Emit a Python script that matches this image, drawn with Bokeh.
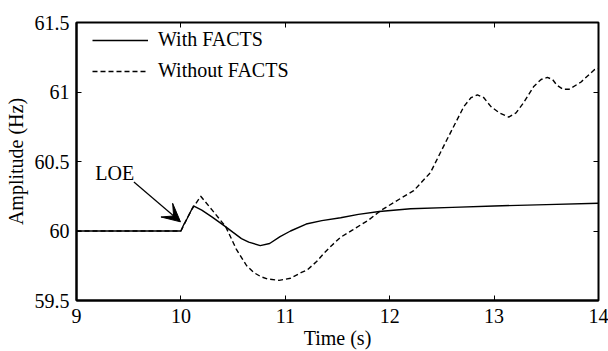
from bokeh.plotting import figure
from bokeh.models import (Range1d, LinearAxis, FixedTicker, Legend, LegendItem,
                          Arrow, VeeHead, Label, CustomJSTickFormatter)
from bokeh.embed import file_html
from bokeh.resources import INLINE

# Frequency response after loss of excitation (LOE)
t_with = [9.0, 10.0, 10.03, 10.06, 10.12, 10.2, 10.3, 10.43, 10.5, 10.58, 10.65, 10.76,
          10.85, 10.95, 11.05, 11.2, 11.35, 11.53, 11.7, 11.9, 12.2, 12.6, 13.0,
          13.5, 14.0]
f_with = [60.0, 60.0, 60.05, 60.09, 60.18, 60.15, 60.1, 60.03, 59.99, 59.945, 59.92, 59.895,
          59.91, 59.96, 60.0, 60.05, 60.075, 60.095, 60.12, 60.14, 60.16, 60.17, 60.18,
          60.19, 60.2]

t_without = [9.0, 10.0, 10.1, 10.19, 10.3, 10.43, 10.53, 10.63, 10.7, 10.77, 10.83, 10.94,
             11.05, 11.15, 11.21, 11.3, 11.37, 11.45, 11.53, 11.65, 11.8, 11.91, 12.05,
             12.23, 12.39, 12.55, 12.71, 12.78, 12.84, 12.9, 12.97, 13.05, 13.14, 13.21,
             13.28, 13.38, 13.45, 13.51, 13.56, 13.6, 13.66, 13.72, 13.83, 13.96, 14.0]
f_without = [60.0, 60.0, 60.15, 60.25, 60.15, 60.03, 59.87, 59.75, 59.70, 59.67, 59.655, 59.645,
             59.66, 59.7, 59.72, 59.78, 59.84, 59.9, 59.955, 60.01, 60.08, 60.145, 60.21,
             60.29, 60.42, 60.66, 60.895, 60.96, 60.98, 60.96, 60.895, 60.85, 60.82, 60.85,
             60.92, 61.04, 61.09, 61.105, 61.09, 61.05, 61.02, 61.02, 61.07, 61.16, 61.17]

x_ticks = [9, 10, 11, 12, 13, 14]
y_ticks = [59.5, 60, 60.5, 61, 61.5]
y_tick_labels = ["59.5", "60", "60.5", "61", "61.5"]

series_names = ["With FACTS", "Without FACTS"]
annotation_text = "LOE"
arrow_from = (9.55, 60.352)
arrow_to = (9.996, 60.066)
annotation_pos = (9.18, 60.42)

FONT = "Liberation Serif"
FS = "20px"

p = figure(width=608, height=351, output_backend="svg", toolbar_location=None,
           x_range=Range1d(9, 14), y_range=Range1d(59.5, 61.5),
           min_border_left=76, min_border_right=10, min_border_top=22,
           min_border_bottom=49, x_axis_label="Time (s)",
           y_axis_label="Amplitude (Hz)")
p.grid.visible = False
p.background_fill_color = "white"
p.border_fill_color = "white"
p.outline_line_color = "black"
p.outline_line_width = 2

for ax in (p.xaxis[0], p.yaxis[0]):
    ax.axis_line_width = 2
    ax.major_tick_in = 5
    ax.major_tick_out = 0
    ax.minor_tick_line_color = None
    ax.major_label_text_font = FONT
    ax.major_label_text_font_size = FS
    ax.major_label_text_color = "black"
    ax.axis_label_text_font = FONT
    ax.axis_label_text_font_size = FS
    ax.axis_label_text_color = "black"
    ax.axis_label_text_font_style = "normal"
    ax.major_tick_line_width = 1

p.xaxis[0].ticker = FixedTicker(ticks=x_ticks)
p.yaxis[0].ticker = FixedTicker(ticks=y_ticks)
p.yaxis[0].major_label_overrides = {v: s for v, s in zip(y_ticks, y_tick_labels)}
p.xaxis[0].major_label_standoff = 8
p.xaxis[0].axis_label_standoff = 1
p.yaxis[0].major_label_standoff = 7
p.yaxis[0].axis_label_standoff = 5

# mirrored tick marks on the top and right edges (no labels)
for side in ("above", "right"):
    m = LinearAxis(ticker=FixedTicker(ticks=x_ticks if side == "above" else y_ticks),
                   formatter=CustomJSTickFormatter(code="return ''"),
                   major_tick_in=5, major_tick_out=0, minor_tick_line_color=None,
                   major_label_standoff=0, axis_line_color=None)
    p.add_layout(m, side)

r1 = p.line(t_with, f_with, line_color="black", line_width=1.4)
r2 = p.line(t_without, f_without, line_color="black", line_width=1.4,
            line_dash="5 3")

legend = Legend(items=[LegendItem(label=series_names[0], renderers=[r1]),
                       LegendItem(label=series_names[1], renderers=[r2])],
                location=(16, 218), margin=0, padding=0, spacing=8,
                glyph_width=56, glyph_height=20, label_height=20,
                label_standoff=10, label_text_font=FONT, label_text_font_size=FS,
                label_text_color="black",
                border_line_color=None, background_fill_alpha=0)
p.add_layout(legend)

p.add_layout(Arrow(end=VeeHead(size=18, fill_color="black", line_color="black"),
                   x_start=arrow_from[0], y_start=arrow_from[1],
                   x_end=arrow_to[0], y_end=arrow_to[1],
                   line_color="black", line_width=1.2))
p.add_layout(Label(x=annotation_pos[0], y=annotation_pos[1], text=annotation_text,
                   text_font=FONT, text_font_size=FS, text_baseline="middle",
                   text_color="black"))

open("out.html", "w").write(file_html(p, INLINE))
